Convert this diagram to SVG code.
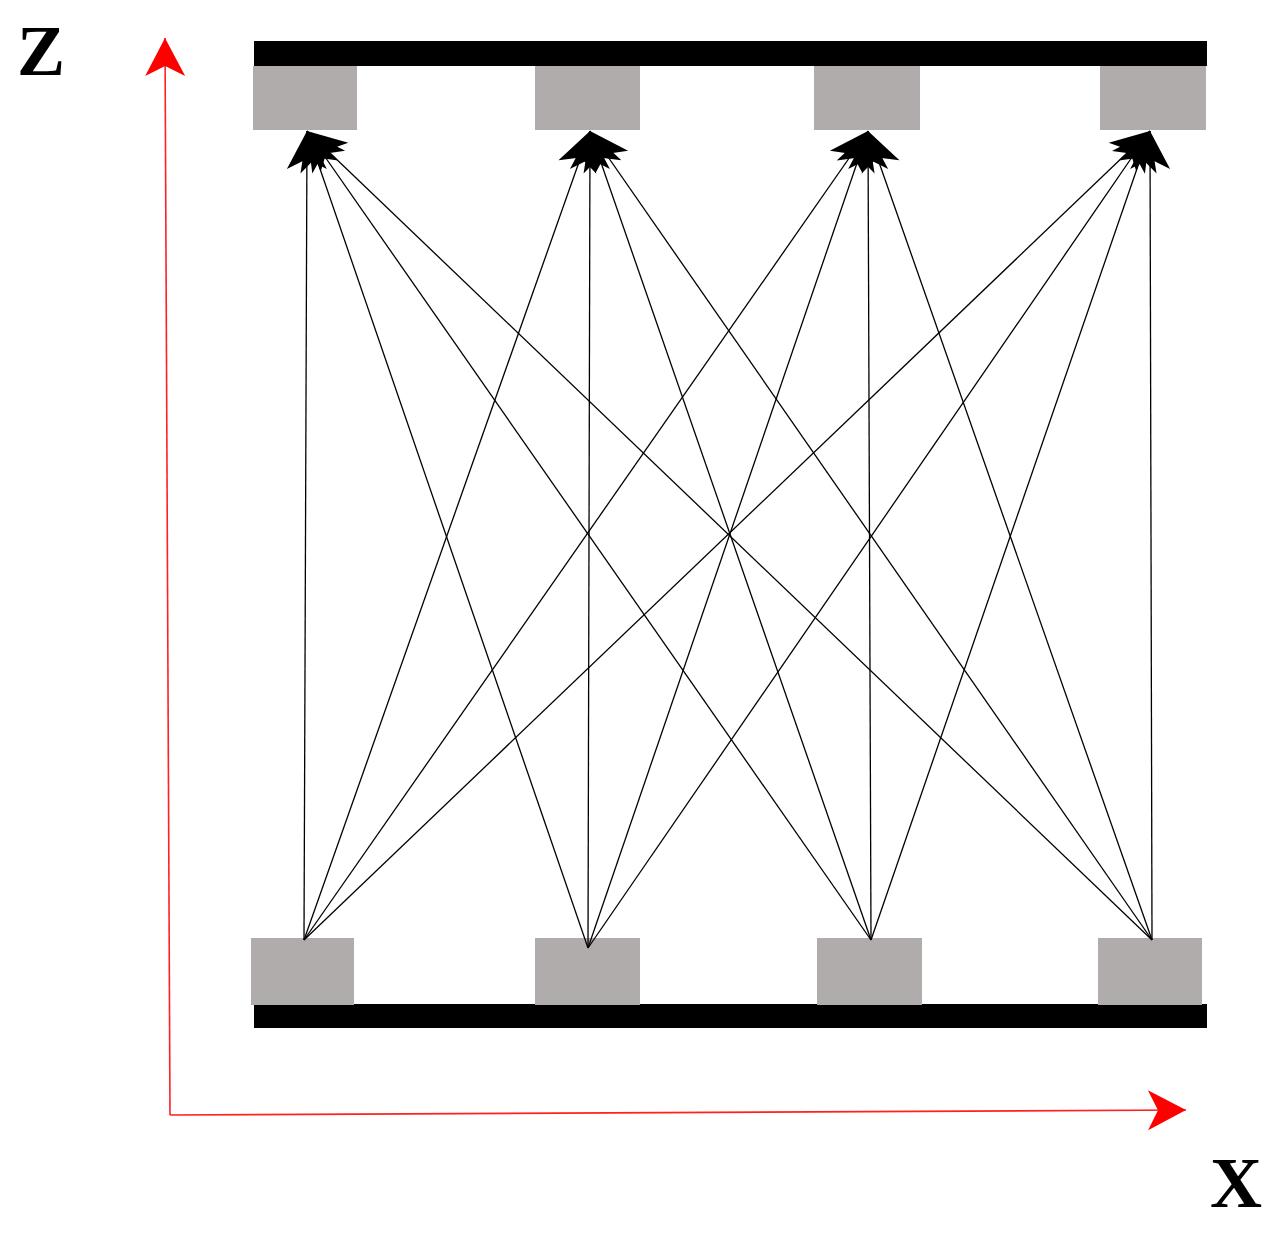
<svg xmlns="http://www.w3.org/2000/svg" width="1275" height="1233" viewBox="0 0 1275 1233">
<style>
.pad{fill:#b0acab}
.bar{fill:#000}
.c{stroke:#000;stroke-width:1.3;fill:none;marker-end:url(#ah)}
.ax{stroke:#ff2020;stroke-width:1.6;fill:none;marker-end:url(#rh)}
.lbl{font-family:"Liberation Serif",serif;font-weight:bold;font-size:72px}
</style>
<defs>
<marker id="ah" markerUnits="userSpaceOnUse" viewBox="-40 -22 42 44" markerWidth="42" markerHeight="44" refX="0" refY="0" orient="auto">
<path d="M0,0 L-38,-20 L-28,0 L-38,20 Z" fill="#000"/>
</marker>
<marker id="rh" markerUnits="userSpaceOnUse" viewBox="-40 -22 42 44" markerWidth="42" markerHeight="44" refX="0" refY="0" orient="auto">
<path d="M0,0 L-38,-20 L-28,0 L-38,20 Z" fill="#ff0000"/>
</marker>
</defs>
<rect class="bar" x="254" y="41" width="953" height="25"/>
<rect class="bar" x="254" y="1004" width="953" height="24"/>
<g id="t1"><rect class="pad" x="253" y="66" width="104" height="64"/></g>
<g id="t2"><rect class="pad" x="535" y="66" width="105" height="64"/></g>
<g id="t3"><rect class="pad" x="814" y="66" width="106" height="64"/></g>
<g id="t4"><rect class="pad" x="1100" y="66" width="106" height="64"/></g>
<g id="b1"><rect class="pad" x="251" y="938" width="103" height="67"/></g>
<g id="b2"><rect class="pad" x="535" y="938" width="105" height="67"/></g>
<g id="b3"><rect class="pad" x="817" y="938" width="105" height="67"/></g>
<g id="b4"><rect class="pad" x="1098" y="938" width="104" height="67"/></g>
<g id="connectors">
<path class="c" d="M304,940L307,131"/><path class="c" d="M304,940L590,131"/><path class="c" d="M304,940L868,131"/><path class="c" d="M304,940L1150,131"/>
<path class="c" d="M588,948L307,131"/><path class="c" d="M588,948L590,131"/><path class="c" d="M588,948L868,131"/><path class="c" d="M588,948L1150,131"/>
<path class="c" d="M871,940L307,131"/><path class="c" d="M871,940L590,131"/><path class="c" d="M871,940L868,131"/><path class="c" d="M871,940L1150,131"/>
<path class="c" d="M1152,940L307,131"/><path class="c" d="M1152,940L590,131"/><path class="c" d="M1152,940L868,131"/><path class="c" d="M1152,940L1150,131"/>
<path class="ax" d="M170,1115L165,38"/>
<path class="ax" d="M170,1115L1186,1110"/>
</g>
<text class="lbl" x="17" y="75">Z</text>
<text class="lbl" x="1210" y="1207">X</text>
</svg>
